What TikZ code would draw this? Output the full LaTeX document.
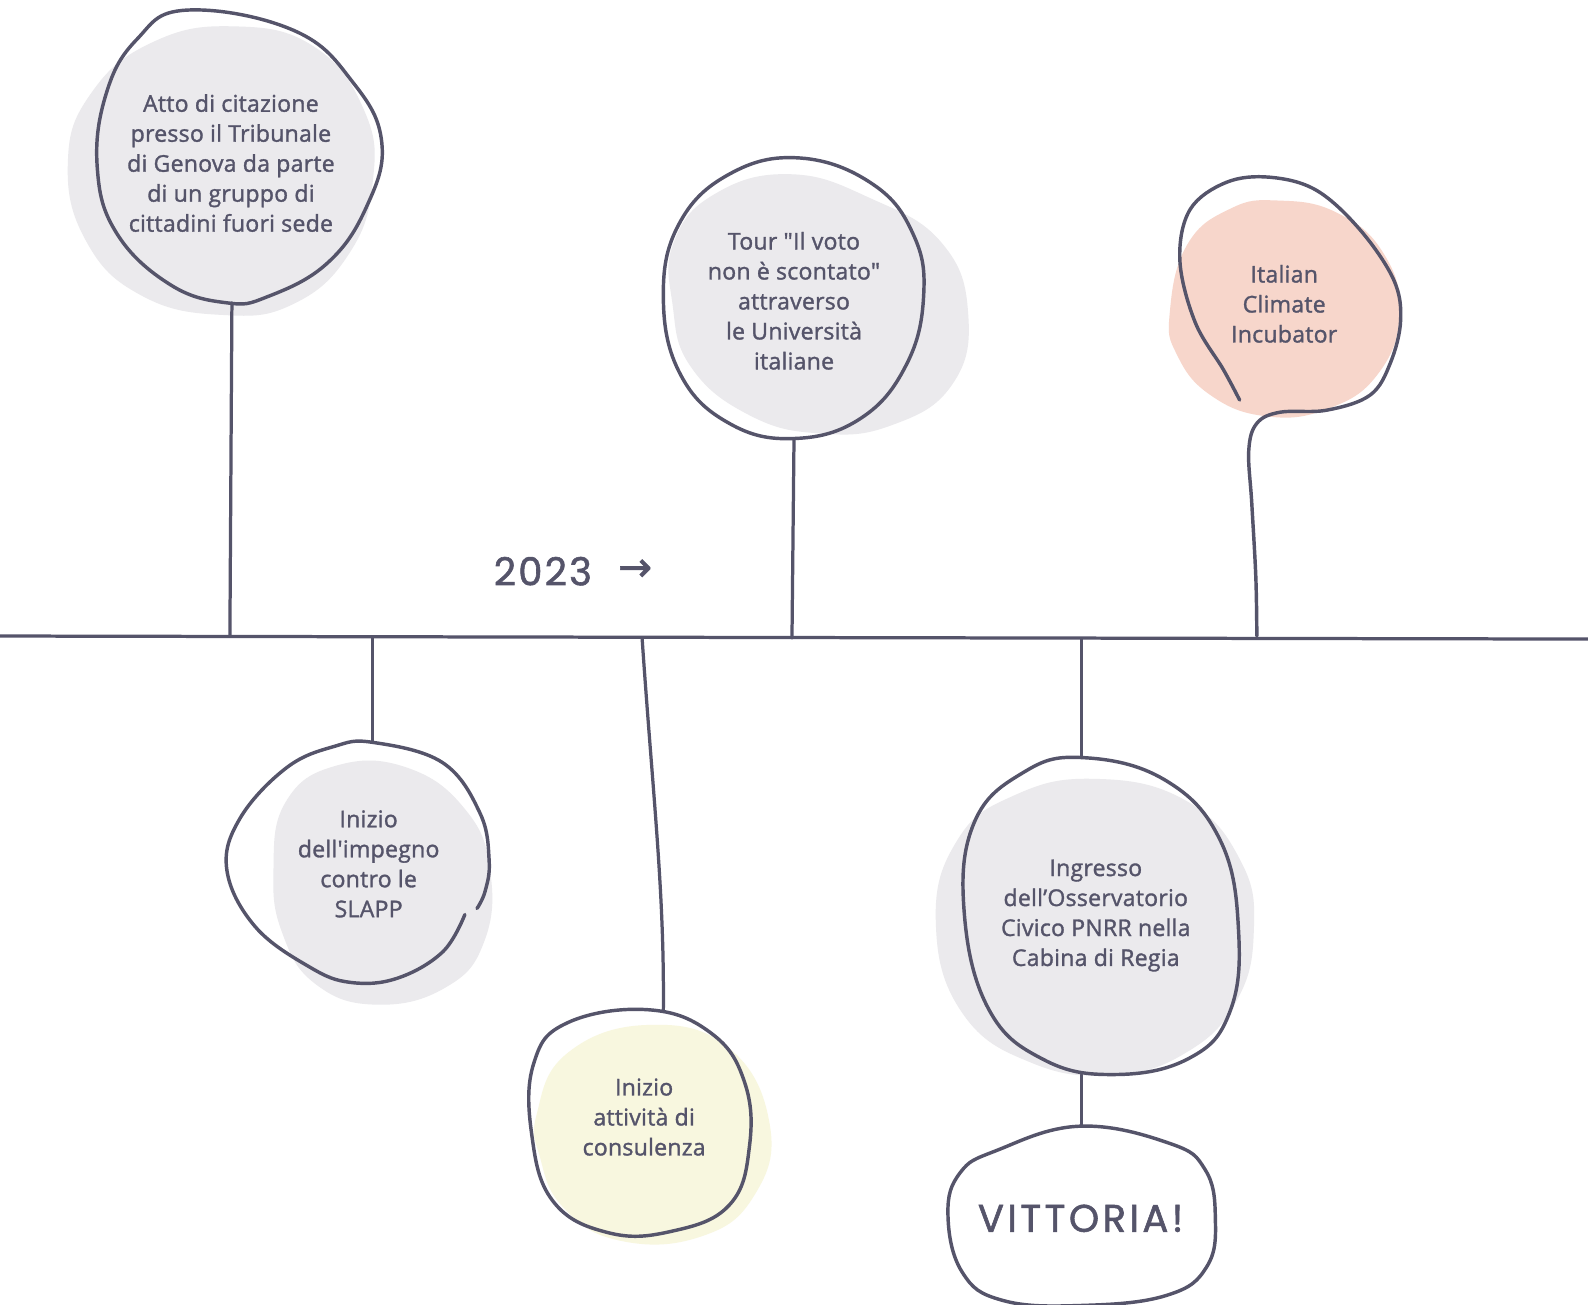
\documentclass[tikz,border=0pt]{standalone}
\usepackage{fontspec}
\setmainfont{Open Sans}[Ligatures=TeXOff, FakeBold=1.4, LetterSpace=1]
\newfontfamily\handfont{Poppins}[LetterSpace=9, FakeBold=1.5]
\newfontfamily\handfontb{Poppins}[LetterSpace=6, FakeBold=1.5]
\newfontfamily\symfont{DejaVu Sans}[FakeBold=1.5]
\usetikzlibrary{calc}
\definecolor{ink}{HTML}{55546A}
\definecolor{greyfill}{HTML}{EBEAED}
\definecolor{peach}{HTML}{F7D6CB}
\definecolor{pale}{HTML}{F8F7DF}
\tikzset{
  outline/.style={draw=ink, line width=3.4pt, line cap=round, line join=round},
  link/.style={draw=ink, line width=3.2pt, line cap=round},
  txt/.style={text=ink, align=center, inner sep=0pt, font=\fontsize{22.8}{29.6}\selectfont},
  hand/.style={text=ink, inner sep=0pt},
}
\begin{document}
\begin{tikzpicture}[x=1pt, y=-1pt]
\useasboundingbox (0,0) rectangle (1568,1288.5);
\fill[white] (0,0) rectangle (1568,1288.5);

% ---------- fills ----------
\fill[greyfill] plot[smooth cycle, tension=0.75] coordinates {(67,160) (90,92) (150,42) (230,26) (310,46) (360,110) (368,180) (345,250) (290,300) (220,311) (140,292) (85,238)};
\fill[greyfill] plot[smooth cycle, tension=0.75] coordinates {(665,240) (705,192) (780,172) (860,196) (930,240) (956,310) (940,380) (880,420) (810,428) (740,410) (682,362) (664,300)};
\fill[peach] plot[smooth cycle, tension=0.75] coordinates {(1155,309) (1172,242) (1215,206) (1262,198) (1320,210) (1366,250) (1382,310) (1360,370) (1310,404) (1250,411) (1195,390) (1162,350)};
\fill[greyfill] plot[smooth cycle, tension=0.75] coordinates {(270,860) (282,792) (332,756) (402,758) (460,800) (484,860) (478,930) (440,975) (372,992) (312,972) (279,922)};
\fill[pale] plot[smooth cycle, tension=0.75] coordinates {(530,1100) (560,1040) (640,1012) (720,1035) (760,1110) (745,1180) (692,1221) (612,1225) (556,1192) (533,1142)};
\fill[greyfill] plot[smooth cycle, tension=0.75] coordinates {(924,910) (945,830) (1000,786) (1080,769) (1170,790) (1225,850) (1238,920) (1220,990) (1170,1040) (1100,1061) (1020,1050) (950,1000)};

% ---------- outlines ----------
\draw[outline] plot[smooth cycle, tension=0.7] coordinates {(184,10) (290,30) (349,82) (377,141) (362,204) (323,260) (264,293) (224,299) (168,281) (115,230) (96,165) (105,92) (135,39)};
\draw[outline] plot[smooth cycle, tension=0.7] coordinates {(790,156) (862,182) (902,232) (912,292) (895,360) (850,413) (784,433) (720,418) (672,370) (655,295) (670,222) (720,172)};
\draw[outline] plot[smooth, tension=0.6] coordinates {(1224,395) (1208,365) (1180,318) (1165,257) (1175,207) (1211,180) (1254,175) (1300,188) (1343,227) (1376,276) (1383,316) (1373,358) (1353,390) (1310,405) (1264,407) (1241,418) (1233,445) (1236,497) (1240,570) (1241,628)};
\draw[outline] plot[smooth, tension=0.65] coordinates {(459,903) (437,940) (392,966) (346,970) (306,955) (252,915) (224,859) (237,808) (283,758) (330,737) (368,733) (437,753) (474,803) (483,850) (479,880) (471,897)};
\draw[outline] plot[smooth cycle, tension=0.7] coordinates {(560,1010) (640,997) (702,1020) (735,1068) (740,1132) (720,1190) (662,1216) (600,1217) (546,1186) (525,1120) (527,1050)};
\draw[outline] plot[smooth cycle, tension=0.7] coordinates {(1068,748) (1150,770) (1205,830) (1223,920) (1214,1000) (1174,1045) (1100,1061) (1030,1046) (976,996) (952,900) (962,812) (1010,763)};
\draw[outline] plot[smooth cycle, tension=0.7] coordinates {(1066,1112) (1155,1129) (1190,1155) (1200,1201) (1192,1250) (1152,1279) (1068,1289) (990,1284) (950,1256) (936,1199) (948,1158) (984,1136)};

% ---------- anchor coordinates ----------
\coordinate (tlL) at (0,628);
\coordinate (tlR) at (1568,631);
\coordinate (b1) at (229,299);  \coordinate (m1) at (227,628);
\coordinate (m4) at (368,630);  \coordinate (b4) at (368,733);
\coordinate (m5) at (634,630);  \coordinate (b5) at (655,997);
\coordinate (b2) at (784,433);  \coordinate (m2) at (782,630);
\coordinate (m6) at (1068,631); \coordinate (b6) at (1068,748);
\coordinate (b6s) at (1068,1061); \coordinate (b7) at (1068,1112);

% ---------- timeline and connectors ----------
\draw[link] (tlL) -- (tlR);
\draw[link] (b1) -- (m1);
\draw[link] (m4) -- (b4);
\draw[link] (m5) .. controls (645,790) and (656,880) .. (b5);
\draw[link] (b2) -- (m2);
\draw[link] (m6) -- (b6);
\draw[link] (b6s) -- (b7);

% ---------- texts ----------
\node[txt] (t1) at (228,161) {Atto di citazione\\presso il Tribunale\\di Genova da parte\\di un gruppo di\\cittadini fuori sede};
\node[txt] (t2) at (784,297) {Tour "Il voto\\non è scontato"\\attraverso\\le Università\\italiane};
\node[txt] (t3) at (1268,300) {Italian\\Climate\\Incubator};
\node[txt] (t4) at (364,853) {Inizio\\dell'impegno\\contro le\\SLAPP};
\node[txt] (t5) at (636,1103) {Inizio\\attività di\\consulenza};
\node[txt] (t6) at (1082,904) {Ingresso\\dell’Osservatorio\\Civico PNRR nella\\Cabina di Regia};
\node[hand, font=\handfontb\fontsize{38}{40}\selectfont] (yr) at (536,564) {2023};
\node[hand, font=\symfont\fontsize{40}{40}\selectfont] (arr) at (627,563) {→};
\node[hand, font=\handfont\fontsize{38}{40}\selectfont] (vit) at (1067,1203) {VITTORIA!};
\end{tikzpicture}
\end{document}
